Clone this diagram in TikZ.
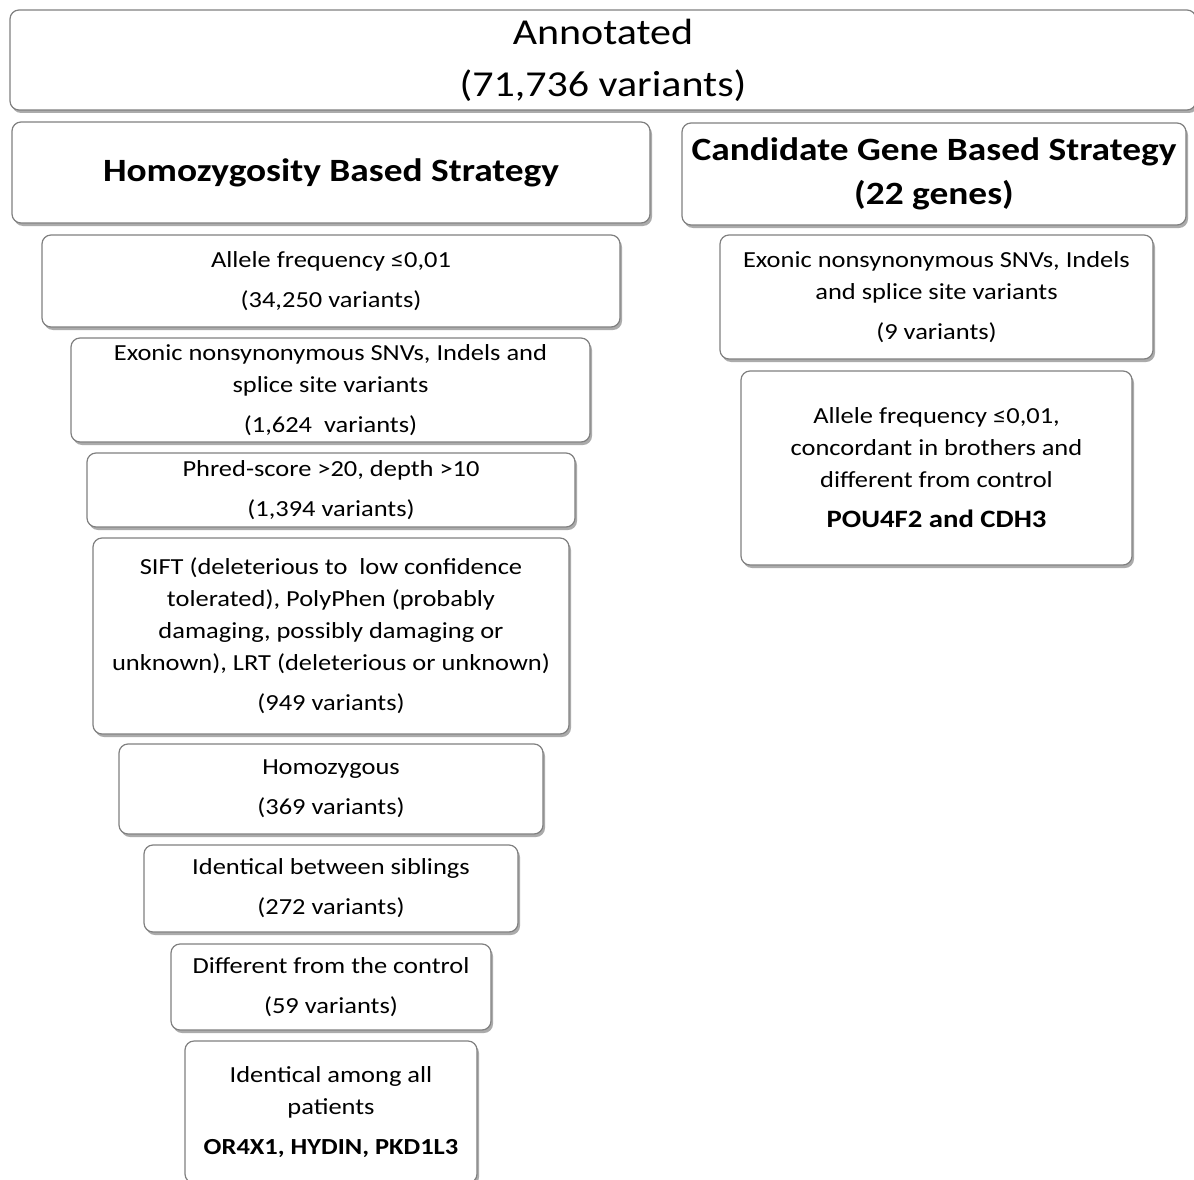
\documentclass[tikz,border=0pt]{standalone}
\usepackage{fontspec}
\setmainfont{Carlito}[FakeStretch=1.15]
\usetikzlibrary{shadows}

\begin{document}
\begin{tikzpicture}[x=1pt, y=-1pt, font=\fontsize{23}{32}\selectfont]
\tikzset{stage/.style={draw=black!50, line width=1.2pt, fill=white, rounded corners=9pt,
                       align=center, inner sep=0pt,
                       drop shadow={shadow xshift=2pt, shadow yshift=-3pt, fill=black!60, opacity=0.55}},
         head/.style={font=\fontsize{32.5}{44}\selectfont\bfseries},
         top/.style={font=\fontsize{36.5}{52}\selectfont}}
% \stagebox{name}{left}{top}{right}{bottom}{text}
\newcommand{\stagebox}[7][]{\node[stage, #1, minimum width={(#5-#3)*1pt}, minimum height={(#6-#4)*1pt}] (#2) at ({(#3+#5)/2},{(#4+#6)/2}) {#7};}

\useasboundingbox (0,0) rectangle (1194,1180);
\clip (0,0) rectangle (1194,1180);

% ---- root
\stagebox[top]{annot}{10}{10}{1196}{110}{Annotated\\(71,736 variants)}

% ---- the two strategies
\stagebox[head]{homo}{12}{122}{650}{223}{Homozygosity Based Strategy}
\stagebox[head]{cand}{682}{123}{1186}{225}{Candidate Gene Based Strategy\\(22 genes)}

% ===== homozygosity filters, left column
\stagebox{freq}{42}{235}{620}{327}{Allele frequency ≤0,01\\[8pt](34,250 variants)}
\stagebox{exon}{71}{338}{590}{442}{Exonic nonsynonymous SNVs, Indels and\\splice site variants\\[8pt](1,624~ variants)}
\stagebox{phred}{87}{453}{575}{527}{Phred-score >20, depth >10\\[8pt](1,394 variants)}
\stagebox{sift}{93}{538}{569}{734}{SIFT (deleterious to~ low confidence\\tolerated), PolyPhen (probably\\damaging, possibly damaging or\\unknown), LRT (deleterious or unknown)\\[8pt](949 variants)}
\stagebox{hom}{119}{744}{543}{834}{Homozygous\\[8pt](369 variants)}
\stagebox{sib}{144}{845}{518}{932}{Identical between siblings\\[8pt](272 variants)}
\stagebox{ctrl}{171}{944}{491}{1030}{Different from the control\\[8pt](59 variants)}
\stagebox{pat}{185}{1041}{477}{1183}{Identical among all\\patients\\[8pt]\textbf{OR4X1, HYDIN, PKD1L3}}

% ===== candidate gene filters, right column
\stagebox{cexon}{720}{235}{1153}{359}{Exonic nonsynonymous SNVs, Indels\\and splice site variants\\[8pt](9 variants)}
\stagebox{cfreq}{741}{371}{1132}{565}{Allele frequency ≤0,01,\\concordant in brothers and\\different from control\\[8pt]{\fontsize{25}{32}\selectfont\bfseries POU4F2 and CDH3}}
\end{tikzpicture}
\end{document}
